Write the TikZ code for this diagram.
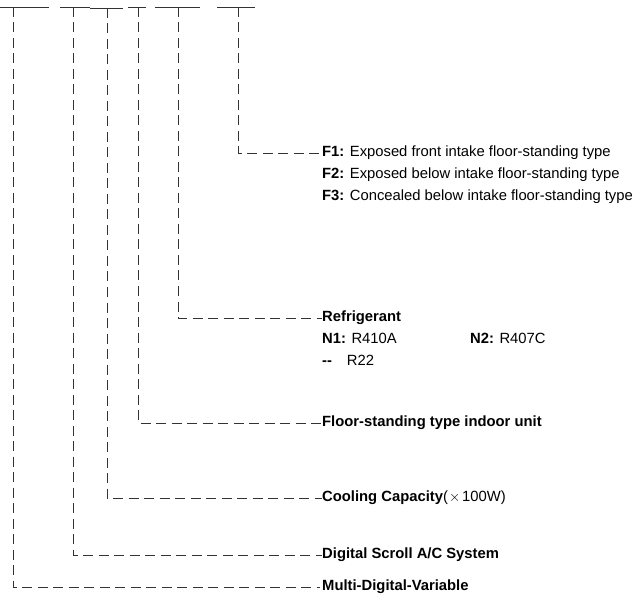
\documentclass[tikz,border=0pt]{standalone}
\usepackage{fontspec}
\setmainfont{Liberation Sans}
\usetikzlibrary{positioning}
\def\tms{\ensuremath{\times}}

\begin{document}
\begin{tikzpicture}[x=1pt,y=-1pt,node distance=22pt,shorten >=2pt,
	lbl/.style={anchor=west,inner sep=0pt,font=\fontsize{14.8}{16}\selectfont,text height=10.5pt,text depth=3pt},
	lead/.style={draw=black!80,line width=0.8pt,dash pattern=on 10pt off 5.5pt},
	bar/.style={draw=black!80,line width=0.9pt}]
\useasboundingbox (0,0) rectangle (639,601);

% code bars on top
\draw[bar]	(0,7)	-- (51,7);
\draw[bar]	(60,7)	-- (92,7);
\draw[bar]	(90,8)	-- (125,8);
\draw[bar]	(128,7)	-- (148,7);
\draw[bar]	(155,7)	-- (202,7);
\draw[bar]	(217,7)	-- (257,7);

\coordinate	(t_mdv)	at (13,7);
\coordinate	(t_dsc)	at (73,7);
\coordinate	(t_cap)	at (107,8);
\coordinate	(t_fst)	at (138,7);
\coordinate	(t_ref)	at (178,7);
\coordinate	(t_typ)	at (238,7);

% labels
\node[lbl]	(f_1)		at (322,153)							{\textbf{F1:} Exposed front intake floor-standing type};
\node[lbl]	(f_2)		[below=of f_1.west,anchor=west]			{\textbf{F2:} Exposed below intake floor-standing type};
\node[lbl]	(f_3)		[below=of f_2.west,anchor=west]			{\textbf{F3:} Concealed below intake floor-standing type};

\node[lbl]	(refr)		at (322,318)							{\textbf{Refrigerant}};
\node[lbl]	(n_1)		[below=of refr.west,anchor=west]		{\textbf{N1:} R410A};
\node[lbl]	(n_2)		at (470,340)							{\textbf{N2:} R407C};
\node[lbl]	(n_0)		[below=of n_1.west,anchor=west]			{\textbf{-{}-}\quad R22};

\node[lbl]	(fstand)	at (322,423)							{\textbf{Floor-standing type indoor unit}};
\node[lbl]	(cap)		at (322,498)							{\textbf{Cooling Capacity}(\hspace{1pt}\tms\hspace{2pt}100W)};
\node[lbl]	(dscroll)	at (322,555)							{\textbf{Digital Scroll A/C System}};
\node[lbl]	(mdv)		at (322,587)							{\textbf{Multi-Digital-Variable}};

% leaders
\path[lead]
(t_typ)	|-	(f_1.west)
(t_ref)	|-	(refr.west)
(t_fst)	|-	(fstand.west)
(t_cap)	|-	(cap.west)
(t_dsc)	|-	(dscroll.west)
(t_mdv)	|-	(mdv.west)
;
\end{tikzpicture}
\end{document}
